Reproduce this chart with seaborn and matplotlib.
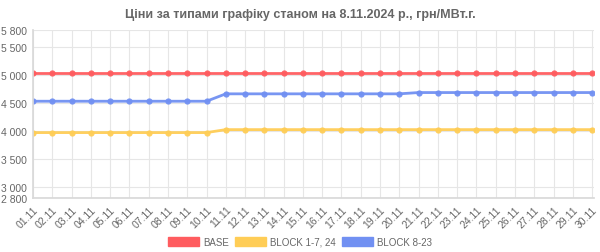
import matplotlib
matplotlib.use("Agg")
import matplotlib.pyplot as plt
import seaborn as sns
import pandas as pd
from matplotlib.patches import Patch

dates = [f"{d:02d}.11" for d in range(1, 31)]
base = [5025] * 30
block_1_7_24 = [3968] * 10 + [4021] * 20
block_8_23 = [4528] * 10 + [4660] * 10 + [4683] * 10
series_names = ["BASE", "BLOCK 1-7, 24", "BLOCK 8-23"]
yticks = [2800, 3000, 3500, 4000, 4500, 5000, 5500, 5800]
title = "Ціни за типами графіку станом на 8.11.2024 р., грн/МВт.г."

colors = ["#ff5c5f", "#ffcd56", "#7190f2"]

df = pd.DataFrame({
    "date": dates * 3,
    "x": list(range(30)) * 3,
    "value": base + block_1_7_24 + block_8_23,
    "series": [series_names[0]] * 30 + [series_names[1]] * 30 + [series_names[2]] * 30,
})

sns.set_theme(style="white")
plt.rcParams["font.family"] = ["Liberation Sans", "DejaVu Sans"]

fig = plt.figure(figsize=(6.0, 2.53), dpi=100)
ax = fig.add_axes([33 / 600, 1 - 199 / 253, (594 - 33) / 600, (199 - 31) / 253])

sns.lineplot(data=df, x="x", y="value", hue="series", palette=colors,
             marker="o", markersize=4.5, markeredgewidth=0, linewidth=2.0,
             dashes=False, legend=False, ax=ax, alpha=0.95)

ax.set_xlim(0, 29.1)
ax.set_ylim(2800, 5800)
ax.set_yticks(yticks)
ax.set_yticklabels([f"{v:,}".replace(",", " ") for v in yticks])
ax.set_xticks(range(30))
ax.set_xticklabels(dates, rotation=45, ha="right", rotation_mode="anchor")
ax.set_xlabel("")
ax.set_ylabel("")

ax.grid(True, color="#e6e6e6", linewidth=0.8)
ax.set_axisbelow(True)
for s in ["top", "right"]:
    ax.spines[s].set_visible(False)
ax.spines["left"].set_color("#d9d9d9")
ax.spines["bottom"].set_color("#d9d9d9")
ax.tick_params(axis="both", colors="#e0e0e0", labelcolor="#666666",
               labelsize=7.5, length=3, width=0.8, pad=1.5)

fig.text(0.5, 1 - 15 / 253, title, ha="center", va="center",
         fontsize=9, fontweight="bold", color="#666666")

handles = [Patch(facecolor=c, edgecolor=c) for c in colors]
fig.legend(handles, series_names, loc="center", bbox_to_anchor=(0.5, 1 - 243 / 253),
           ncol=3, frameon=False, fontsize=7, handlelength=3.2, handleheight=1.0,
           columnspacing=0.6, handletextpad=0.4, labelcolor="#666666")

fig.savefig("out.png", dpi=100)
